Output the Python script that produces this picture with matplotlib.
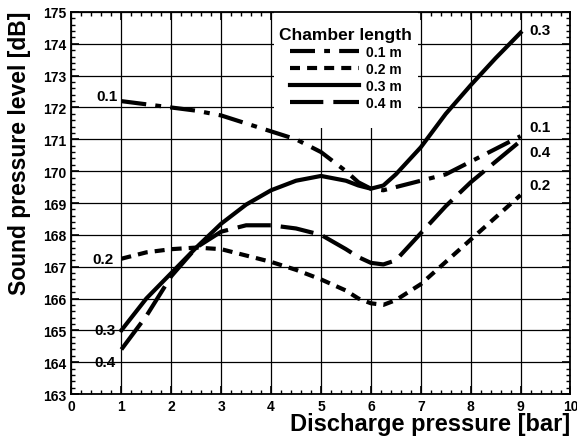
import matplotlib
matplotlib.use("Agg")
import matplotlib.pyplot as plt
from matplotlib.lines import Line2D
from matplotlib.patches import Rectangle

plt.rcParams['font.family'] = ['Liberation Sans', 'DejaVu Sans']
plt.rcParams['font.weight'] = 'bold'

# pressão de descarga [bar]
pressure = [1, 1.5, 2, 2.5, 3, 3.5, 4, 4.5, 5, 5.5, 5.75, 6, 6.25, 6.5, 7, 7.5, 8, 8.5, 9]

# nível de pressão sonora [dB] por comprimento da câmara
spl_01 = [172.2, 172.1, 172.0, 171.9, 171.75, 171.5, 171.25, 171.0, 170.6, 170.0, 169.65, 169.45,
          169.4, 169.5, 169.7, 169.9, 170.3, 170.7, 171.1]
spl_02 = [167.25, 167.45, 167.55, 167.6, 167.55, 167.35, 167.15, 166.9, 166.6, 166.25, 166.0, 165.85,
          165.8, 165.95, 166.45, 167.15, 167.85, 168.55, 169.25]
spl_03 = [165.0, 166.0, 166.8, 167.6, 168.35, 168.95, 169.4, 169.7, 169.85, 169.7, 169.55, 169.45,
          169.55, 169.9, 170.75, 171.8, 172.7, 173.55, 174.35]
spl_04 = [164.4, 165.45, 166.7, 167.6, 168.1, 168.3, 168.3, 168.2, 168.0, 167.55, 167.3, 167.12,
          167.07, 167.2, 168.05, 168.9, 169.65, 170.3, 170.95]

series = [spl_01, spl_02, spl_03, spl_04]
lengths = ['0.1', '0.2', '0.3', '0.4']
styles = [(0, (6, 2.2, 1.4, 2.2)), (0, (2.4, 1.7)), '-', (0, (8, 2.4))]
lw = 3.0

fig = plt.figure(figsize=(5.77, 4.39), dpi=100)
ax = fig.add_axes([0.1239, 0.1002, 0.8648, 0.8702])

for y, ls in zip(series, styles):
    ax.plot(pressure, y, color='black', lw=lw, linestyle=ls, zorder=3)

# rótulos das curvas
ax.text(0.92, 172.35, '0.1', ha='right', va='center', fontsize=11)
ax.text(0.85, 167.25, '0.2', ha='right', va='center', fontsize=11)
ax.text(0.88, 165.0, '0.3', ha='right', va='center', fontsize=11)
ax.text(0.88, 164.0, '0.4', ha='right', va='center', fontsize=11)
ax.text(9.17, 174.45, '0.3', ha='left', va='center', fontsize=11)
ax.text(9.17, 171.4, '0.1', ha='left', va='center', fontsize=11)
ax.text(9.17, 170.6, '0.4', ha='left', va='center', fontsize=11)
ax.text(9.17, 169.55, '0.2', ha='left', va='center', fontsize=11)

ax.set_xlim(0, 10)
ax.set_ylim(163, 175)
ax.set_xticks(range(0, 11))
ax.set_yticks(range(163, 176))
ax.set_xticks([i * 0.2 for i in range(51)], minor=True)
ax.set_yticks([163 + i * 0.2 for i in range(61)], minor=True)
ax.tick_params(which='both', direction='in', top=True, right=True, labelsize=10, color='black')
ax.tick_params(which='major', length=6, width=1.2)
ax.tick_params(which='minor', length=3, width=1)
for lab in ax.get_xticklabels() + ax.get_yticklabels():
    lab.set_fontweight('bold')
ax.grid(True, which='major', color='black', lw=0.9)
ax.set_axisbelow(True)
for sp in ax.spines.values():
    sp.set_linewidth(1.3)

# caixa branca da legenda
ax.add_patch(Rectangle((4.05, 171.35), 2.9, 3.65, facecolor='white', edgecolor='none', zorder=1))

handles = [Line2D([], [], color='black', lw=lw, linestyle=ls) for ls in styles]
leg = ax.legend(handles, [l + ' m' for l in lengths], title='Chamber length',
                loc='upper center', bbox_to_anchor=(0.55, 0.985), frameon=False,
                fontsize=10, title_fontsize=12.5, handlelength=5.0, handletextpad=0.5,
                labelspacing=0.2, borderpad=0.2)
leg.get_title().set_fontweight('bold')

fig.text(570 / 577, 1 - 425 / 439, 'Discharge pressure [bar]', ha='right', va='center',
         fontsize=17, fontweight='bold')
fig.text(20 / 577, 1 - 12 / 439, 'Sound pressure level [dB]', ha='center', va='top',
         rotation=90, fontsize=16.5, fontweight='bold')

fig.savefig('out.png', dpi=100)
